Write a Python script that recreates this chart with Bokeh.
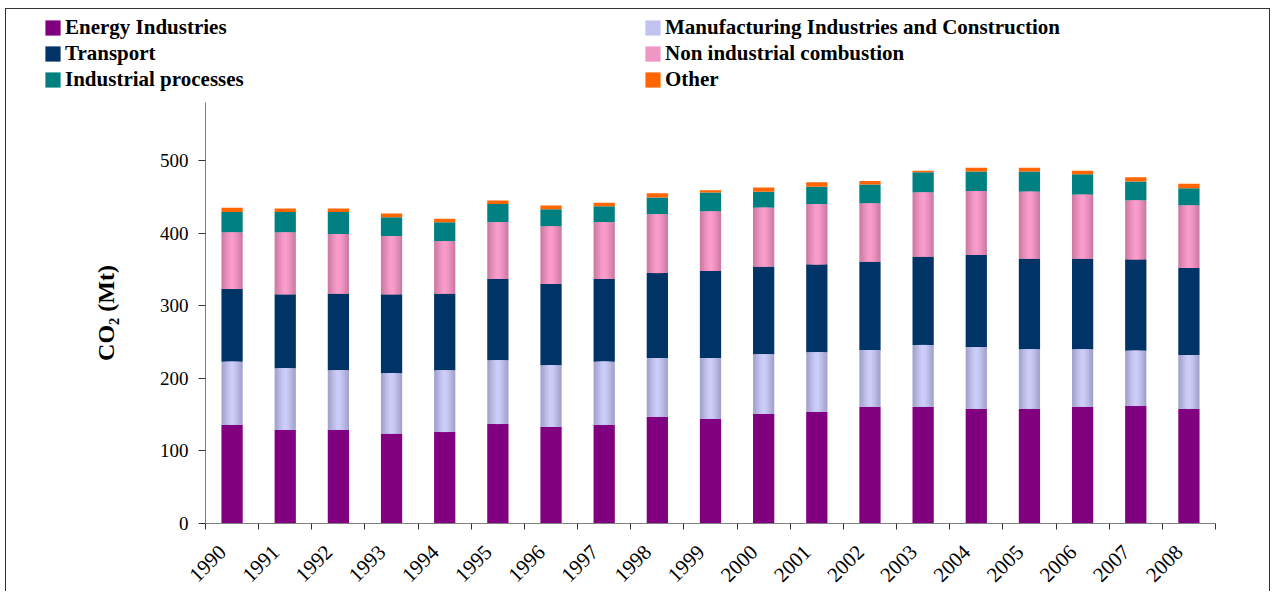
from bokeh.plotting import figure
from bokeh.models import Range1d, FixedTicker, Legend, LegendItem, ColumnDataSource
from bokeh.transform import stack
from bokeh.embed import file_html
from bokeh.resources import INLINE

years = ["1990", "1991", "1992", "1993", "1994", "1995", "1996", "1997", "1998", "1999",
         "2000", "2001", "2002", "2003", "2004", "2005", "2006", "2007", "2008"]
energy = [136, 129, 129, 124, 126, 137, 133, 136, 147, 144, 151, 154, 161, 161, 158, 158, 161, 162, 158]
manufacturing = [87, 85, 82, 83, 85, 88, 85, 87, 81, 84, 82, 82, 78, 85, 85, 82, 79, 76, 74]
transport = [100, 102, 106, 109, 106, 112, 112, 114, 117, 120, 121, 121, 122, 122, 127, 125, 125, 126, 120]
non_industrial = [78, 85, 82, 80, 72, 78, 79, 78, 81, 82, 81, 83, 80, 88, 88, 92, 88, 81, 86]
industrial = [28, 28, 30, 26, 26, 25, 24, 22, 23, 26, 22, 24, 26, 28, 27, 28, 28, 26, 24]
other = [6, 5, 5, 5, 5, 5, 5, 5, 6, 3, 6, 6, 5, 2, 5, 5, 5, 6, 6]

series_names = ["Energy Industries", "Manufacturing Industries and Construction", "Transport",
                "Non industrial combustion", "Industrial processes", "Other"]
series_keys = ["energy", "manufacturing", "transport", "non_industrial", "industrial", "other"]
colors = ["#800080", "#A4A4CE", "#003366", "#CF7BA3", "#008080", "#FF6600"]
legend_colors = ["#800080", "#C2C2F0", "#003366", "#EE96C4", "#008080", "#FF6600"]
# shading steps (edge -> centre) for the two cylinder-like series
manuf_shades = ["#AEAED8", "#BABAE4", "#C4C4F0", "#CCCCFA"]
nonind_shades = ["#DA84AE", "#E68EBA", "#F095C4", "#F99BCB"]

xs = [i + 0.5 for i in range(len(years))]
source = ColumnDataSource(dict(x=xs, energy=energy, manufacturing=manufacturing, transport=transport,
                               non_industrial=non_industrial, industrial=industrial, other=other))

BAR_W = 0.4
W = 1265

# ---------------- legend strip ----------------
# its x range lies outside the data, so the renderers below only supply legend swatches
lg = figure(width=W, height=90, output_backend="svg", toolbar_location=None,
            x_range=Range1d(-2, -1), y_range=Range1d(0, 1), x_axis_type=None, y_axis_type=None,
            min_border_left=0, min_border_right=0, min_border_top=0, min_border_bottom=0,
            styles={"margin-left": "5px", "margin-top": "8px",
                    "border-top": "1px solid #333", "border-left": "1px solid #333",
                    "border-right": "1px solid #333"})
lg.outline_line_color = None
lg.xgrid.grid_line_color = None
lg.ygrid.grid_line_color = None
dummies = [lg.vbar(x="x", top=key, width=BAR_W, source=source, color=c, line_color=None)
           for key, c in zip(series_keys, legend_colors)]

order = [0, 2, 4, 1, 3, 5]
items = [LegendItem(label=series_names[i], renderers=[dummies[i]]) for i in order]
legend = Legend(items=items, nrows=3, location=(37, 7),
                label_text_font="Liberation Serif", label_text_font_style="bold",
                label_text_font_size="21px", label_text_color="#000000",
                label_standoff=3, label_width=577, label_height=21,
                glyph_width=19, glyph_height=19, spacing=1, padding=0, margin=0,
                border_line_color=None, background_fill_alpha=0)
lg.add_layout(legend, "center")

# ---------------- chart ----------------
p = figure(width=W, height=493, output_backend="svg", toolbar_location=None,
           x_range=Range1d(0, 19), y_range=Range1d(0, 580),
           min_border_left=199, min_border_right=56, min_border_top=4, min_border_bottom=67,
           styles={"margin-left": "5px",
                   "border-left": "1px solid #333", "border-right": "1px solid #333"})
p.outline_line_color = None
p.xgrid.grid_line_color = None
p.ygrid.grid_line_color = None

p.vbar_stack(series_keys, x="x", width=BAR_W, source=source, color=colors, line_color=None)

# cylinder-style shading on Manufacturing and Non industrial segments
for idx, shades in ((1, manuf_shades), (3, nonind_shades)):
    below = series_keys[:idx]
    upto = series_keys[:idx + 1]
    n = len(shades)
    for k, c in enumerate(shades):
        w = BAR_W * (n - k) / (n + 1)
        p.vbar(x="x", width=w, bottom=stack(*below), top=stack(*upto), source=source,
               color=c, line_color=None)

# x axis: labels near bar centres (rotated, anchored at their end), ticks at category boundaries
label_pos = [x - 0.18 for x in xs]
p.xaxis.ticker = FixedTicker(ticks=label_pos, minor_ticks=list(range(len(years) + 1)))
p.xaxis.major_label_overrides = {x: y for x, y in zip(label_pos, years)}
p.xaxis.major_tick_out = 0
p.xaxis.major_tick_in = 0
p.xaxis.minor_tick_out = 6
p.xaxis.minor_tick_in = 0
p.xaxis.minor_tick_line_color = "#333333"
p.xaxis.axis_line_color = "#808080"
p.xaxis.major_label_orientation = 0.785398
p.xaxis.major_label_text_font = "Liberation Serif"
p.xaxis.major_label_text_font_size = "21px"
p.xaxis.major_label_text_color = "#000000"
p.xaxis.major_label_standoff = 19

p.yaxis.ticker = FixedTicker(ticks=[0, 100, 200, 300, 400, 500], minor_ticks=[])
p.yaxis.major_tick_out = 7
p.yaxis.major_tick_in = 0
p.yaxis.major_tick_line_color = "#333333"
p.yaxis.axis_line_color = "#808080"
p.yaxis.major_label_text_font = "Liberation Serif"
p.yaxis.major_label_text_font_size = "19px"
p.yaxis.major_label_text_color = "#000000"
p.yaxis.major_label_standoff = 10
p.yaxis.axis_label = "CO₂ (Mt)"
p.yaxis.axis_label_text_font = "Liberation Serif"
p.yaxis.axis_label_text_font_style = "bold"
p.yaxis.axis_label_text_font_size = "24px"
p.yaxis.axis_label_text_color = "#000000"
p.yaxis.axis_label_standoff = 38

open("out.html", "w").write(file_html([lg, p], INLINE))
